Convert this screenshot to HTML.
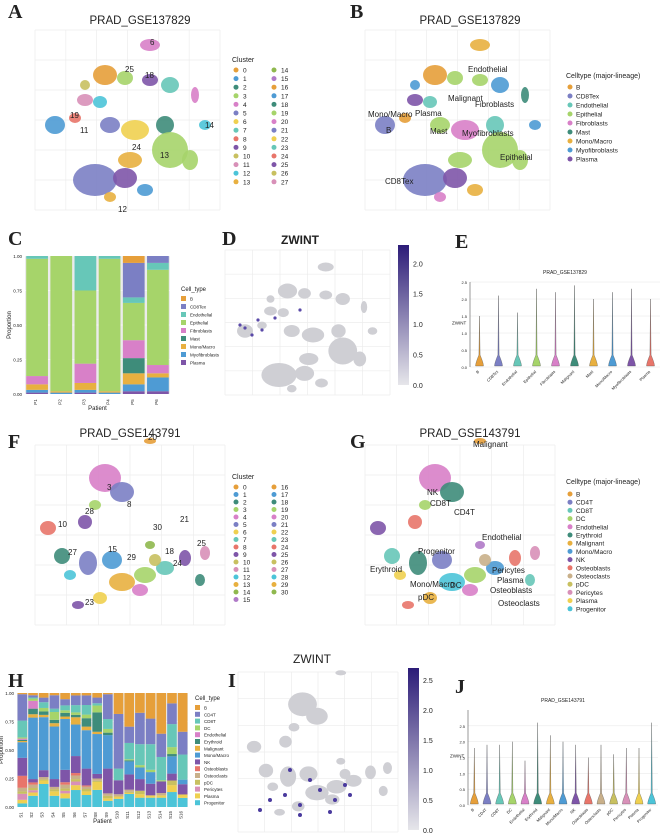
<!DOCTYPE html>
<html><head><meta charset="utf-8">
<style>
html,body{margin:0;padding:0;background:#fff;}
svg{display:block;font-family:"Liberation Sans",sans-serif;}
.pl{font-family:"Liberation Serif",serif;font-weight:bold;font-size:20px;}
</style></head>
<body>
<svg id="fig" width="669" height="836" viewBox="0 0 669 836" xmlns="http://www.w3.org/2000/svg"></svg>
<script>
// ---------- data ----------
const cTypes=["B","CD8Tex","Endothelial","Epithelial","Fibroblasts","Mast","Mono/Macro","Myofibroblasts","Plasma"];
const cColors=["#E69F3A","#7B7FC4","#67C7B8","#A6D46A","#D880C8","#3E8C7A","#E8B040","#4E9BD4","#7E55A8"];
const cPatients=["P1","P2","P3","P4","P5","P6"];
const cValues=[
 [0,0,0.02,0.85,0.06,0,0.04,0.02,0.01],
 [0,0,0,0.98,0,0,0.01,0.01,0],
 [0,0,0.25,0.53,0.14,0,0.05,0.02,0.01],
 [0,0,0.02,0.96,0,0,0.01,0.01,0],
 [0.05,0.25,0.04,0.27,0.13,0.11,0.08,0.05,0.02],
 [0,0.05,0.05,0.69,0.06,0,0.03,0.1,0.02]];
const cTicks=[0,0.25,0.5,0.75,1];
const hTypes=["B","CD4T","CD8T","DC","Endothelial","Erythroid","Malignant","Mono/Macro","NK","Osteoblasts","Osteoclasts","pDC","Pericytes","Plasma","Progenitor"];
const hColors=["#E69F3A","#7B7FC4","#67C7B8","#A6D46A","#D880C8","#3E8C7A","#E8B040","#4E9BD4","#7E55A8","#E8756A","#C9B08A","#C8C060","#D890B8","#EFD050","#4CC4D8"];
const hPatients=["S1","S2","S3","S4","S5","S6","S7","S8","S9","S10","S11","S12","S13","S14","S15","S16"];
const hValues=[
 [.01,.22,.14,.01,.01,.01,.01,.13,.15,.1,.03,.02,.05,.03,.03],
 [.02,.02,.01,.02,.07,.05,.03,.55,.03,.02,.03,.02,.02,.03,.1],
 [.04,.04,.05,.03,0,.03,.02,.46,.06,0,.02,.01,0,.03,.2],
 [.02,.12,.03,.07,0,.03,.03,.47,.07,0,.02,.02,0,.04,.1],
 [.05,.05,.04,.02,0,.03,.02,.41,.1,.02,.03,.02,.02,.04,.07],
 [.02,.08,.06,.02,0,.02,.06,.26,.14,.02,.03,.02,.03,.04,.14],
 [.02,.08,.08,.03,0,.07,.03,.32,.14,.01,.02,.02,0,.03,.1],
 [.04,.05,.02,.06,0,.17,.02,.35,.04,0,.02,.01,0,.07,.15],
 [.01,.2,.08,.03,0,.02,0,.27,.2,0,.02,.02,0,.02,.05],
 [.18,.47,.1,0,0,0,0,0,.12,0,.02,0,0,.02,.07],
 [.31,.15,.15,.01,0,.01,0,.12,.14,0,.02,.01,0,.01,.12],
 [.17,.27,.18,.02,0,0,0,.1,.1,0,0,.03,0,.03,.08],
 [.22,.22,.22,.02,0,0,0,.1,.1,0,0,0,0,.02,.08],
 [.35,.2,.2,.01,0,0,0,0,.1,0,.02,0,0,.02,.08],
 [.09,.18,.2,.06,0,.02,0,.15,.06,0,0,.04,0,.06,.13],
 [.34,.2,.22,0,0,0,0,.04,.09,0,0,0,0,.03,.08]];
const eGroups=["B","CD8Tex","Endothelial","Epithelial","Fibroblasts","Malignant","Mast","Mono/Macro","Myofibroblasts","Plasma"];
const eMax=[1.5,2.1,1.6,2.3,2.2,2.4,2.0,2.2,2.3,2.0];
const jGroups=["B","CD4T","CD8T","DC","Endothelial","Erythroid","Malignant","Mono/Macro","NK","Osteoblasts","Osteoclasts","pDC","Pericytes","Plasma","Progenitor"];
const jMax=[1.8,1.9,1.9,2.0,1.4,2.6,2.2,2.0,1.9,1.5,1.9,1.6,1.8,1.8,2.6];
const clusterA=["0","1","2","3","4","5","6","7","8","9","10","11","12","13","14","15","16","17","18","19","20","21","22","23","24","25","26","27"];
const clusterF=["0","1","2","3","4","5","6","7","8","9","10","11","12","13","14","15","16","17","18","19","20","21","22","23","24","25","26","27","28","29","30"];
const pal=["#E69F3A","#4E9BD4","#3E8C7A","#A6D46A","#D880C8","#7B7FC4","#EFD050","#67C7B8","#E8756A","#7E55A8","#C8C060","#D890B8","#4CC4D8","#E8B040","#8FB84E","#B07AC8"];

const S=document.getElementById('fig');
const NS="http://www.w3.org/2000/svg";
function el(tag,at,parent){const e=document.createElementNS(NS,tag);for(const k in at)e.setAttribute(k,at[k]);(parent||S).appendChild(e);return e;}
function tx(x,y,s,size,extra,parent){const t=el('text',Object.assign({x:x,y:y,'font-size':size,fill:'#222'},extra||{}),parent);t.textContent=s;return t;}

// panel labels
[["A",8,18],["B",350,18],["C",8,245],["D",222,245],["E",455,248],["F",8,448],["G",350,448],["H",8,687],["I",228,687],["J",455,693]].forEach(p=>{
 const t=tx(p[1],p[2],p[0],20,{class:'pl'});
 
 
});

// ---------- UMAP-like panels ----------
function grid(x0,y0,w,h,g){for(let i=0;i<=6;i++){el('line',{x1:x0+i*w/6,y1:y0,x2:x0+i*w/6,y2:y0+h,stroke:'#ececec','stroke-width':0.7},g);el('line',{x1:x0,y1:y0+i*h/6,x2:x0+w,y2:y0+i*h/6,stroke:'#ececec','stroke-width':0.7},g);}}
function blobs(list,dx,dy,colorFn,g){list.forEach((b,i)=>{el('ellipse',{cx:b[0]+dx,cy:b[1]+dy,rx:b[2],ry:b[3],fill:colorFn(b,i),opacity:0.9},g);});}
const blobA=[[150,45,10,6,4],[105,75,12,10,0],[125,78,8,7,3],[150,80,8,6,9],[170,85,9,8,7],[85,100,8,6,11],[100,102,7,6,12],[55,125,10,9,1],[75,118,6,5,8],[110,125,10,8,5],[135,130,14,10,6],[165,125,9,9,2],[205,125,6,5,12],[130,160,12,8,13],[170,150,18,18,3],[190,160,8,10,3],[95,180,22,16,5],[125,178,12,10,9],[145,190,8,6,1],[110,197,6,5,13],[85,85,5,5,10],[195,95,4,8,4]];
const ctA=[6,0,3,3,7,8,2,1,0,3,4,2,7,3,3,3,1,8,6,4,7,5];
function umap(list,dx,dy,colorFn,name,x0,y0,w,h){const g=el('g',{});grid(x0,y0,w,h,g);blobs(list,dx,dy,colorFn,g);return g;}
umap(blobA,0,0,b=>pal[b[4]%pal.length],'umap-cluster-a',35,30,185,180);
umap(blobA,330,0,(b,i)=>cColors[ctA[i]],'umap-celltype-b',365,30,185,180);
tx(140,24,"PRAD_GSE137829",11.5,{'text-anchor':'middle',});
tx(470,24,"PRAD_GSE137829",11.5,{'text-anchor':'middle',});
[["25",125,72],["18",145,78],["14",205,128],["19",70,118],["11",80,133],["24",132,150],["12",118,212],["13",160,158],["6",150,45]].forEach(l=>tx(l[1],l[2],l[0],8,{}));
[["Endothelial",468,72],["Malignant",448,101],["Fibroblasts",475,107],["Mono/Macro",368,117],["Plasma",415,116],["Mast",430,134],["B",386,133],["Myofibroblasts",462,136],["Epithelial",500,160],["CD8Tex",385,184]].forEach(l=>tx(l[1],l[2],l[0],8,{}));
(function(){const g=el('g',{});tx(232,62,"Cluster",7,{},g);
 clusterA.forEach((c,i)=>{const col=i<14?0:1,r=i%14;const x=236+col*38,y=70+r*8.6;el('circle',{cx:x,cy:y,r:2.5,fill:pal[i%pal.length]},g);tx(x+7,y+2.5,c,6.5,{},g);});})();
(function(){const g=el('g',{});tx(566,78,"Celltype (major-lineage)",7,{},g);
 cTypes.forEach((c,i)=>{const y=87+i*9;el('circle',{cx:570,cy:y,r:2.5,fill:cColors[i]},g);tx(576,y+2.5,c,6.5,{},g);});})();

// F/G
const blobF=[[150,441,6,3,0],[105,478,16,14,4],[122,492,12,10,5],[95,505,6,5,3],[48,528,8,7,8],[85,522,7,7,9],[62,556,8,8,2],[88,563,9,12,5],[112,560,10,9,1],[122,582,13,9,13],[145,575,11,8,3],[165,568,9,7,7],[185,558,6,8,9],[200,580,5,6,2],[78,605,6,4,9],[100,598,7,6,6],[140,590,8,6,4],[155,560,6,6,10],[205,553,5,7,11],[70,575,6,5,12],[150,545,5,4,14]];
const gCol=["#E69F3A","#7B7FC4","#67C7B8","#A6D46A","#D880C8","#3E8C7A","#E8B040","#4E9BD4","#7E55A8","#E8756A","#C9B08A","#D890B8","#EFD050","#4CC4D8","#B07AC8"];
umap(blobF,0,0,b=>pal[b[4]%pal.length],'umap-cluster-f',35,445,190,180);
umap(blobF,330,0,(b,i)=>gCol[b[4]%gCol.length],'umap-celltype-g',365,445,190,180);
tx(130,437,"PRAD_GSE143791",11.5,{'text-anchor':'middle',});
tx(470,437,"PRAD_GSE143791",11.5,{'text-anchor':'middle',});
[["20",148,440],["3",107,490],["8",127,507],["30",153,530],["21",180,522],["10",58,527],["28",85,514],["15",108,552],["29",127,560],["18",165,554],["25",197,546],["24",173,566],["23",85,605],["27",68,555]].forEach(l=>tx(l[1],l[2],l[0],8,{}));
[["Malignant",473,447],["NK",427,495],["CD8T",430,506],["CD4T",454,515],["Endothelial",482,540],["Progenitor",418,554],["Pericytes",492,573],["Plasma",497,583],["Osteoblasts",490,593],["Osteoclasts",498,606],["Erythroid",370,572],["Mono/Macro",410,587],["DC",450,588],["pDC",418,600]].forEach(l=>tx(l[1],l[2],l[0],8,{}));
(function(){const g=el('g',{});tx(232,479,"Cluster",7,{},g);
 clusterF.forEach((c,i)=>{const col=i<16?0:1,r=i%16;const x=236+col*38,y=487+r*7.5;el('circle',{cx:x,cy:y,r:2.5,fill:pal[i%pal.length]},g);tx(x+7,y+2.5,c,6.5,{},g);});})();
(function(){const g=el('g',{});tx(566,484,"Celltype (major-lineage)",7,{},g);
 hTypes.forEach((c,i)=>{const y=494+i*8.2;el('circle',{cx:570,cy:y,r:2.5,fill:hColors[i]},g);tx(576,y+2.5,c,6.5,{},g);});})();

// ---------- feature plots D, I ----------
function feature(list,name,x0,y0,w,h,cbx,cby,cbh,ticks,maxv){
 const g=el('g',{});grid(x0,y0,w,h,g);
 list.forEach(b=>el('ellipse',{cx:b[0],cy:b[1],rx:b[2],ry:b[3],fill:'#cfcfd4'},g));
 const gid=name+'-grad';const d=el('defs',{},g);const lg=el('linearGradient',{id:gid,x1:0,y1:1,x2:0,y2:0},d);
 el('stop',{offset:'0','stop-color':'#e6e6ea'},lg);el('stop',{offset:'1','stop-color':'#2c1c78'},lg);
 const cb=el('rect',{x:cbx,y:cby,width:11,height:cbh,fill:'url(#'+gid+')'},g);
 
 ticks.forEach(t=>{const y=cby+cbh-t/maxv*cbh;tx(cbx+15,y+3,t.toFixed(1),7,{},g);});
 return g;}
const dBlobs=blobA.map(b=>[(b[0]-35)*0.85+228,(b[1]-30)*0.8+255,b[2]*0.8,b[3]*0.75]);
const gD=feature(dBlobs,'feature-plot-d',225,250,165,145,398,245,140,[0,0.5,1,1.5,2],2.3);
[[240,325],[245,328],[258,320],[262,330],[252,335],[275,318],[300,310]].forEach(p=>el('circle',{cx:p[0],cy:p[1],r:1.6,fill:'#5a4aa8'},gD));
tx(300,244,"ZWINT",12,{'text-anchor':'middle','font-weight':'bold',});
const iBlobs=blobF.map(b=>[(b[0]-35)*0.85+243,(b[1]-440)*0.85+672,b[2]*0.9,b[3]*0.85]);
const gI=feature(iBlobs,'feature-plot-i',238,672,160,160,408,668,162,[0,0.5,1,1.5,2,2.5],2.7);
[[270,800],[285,795],[300,805],[320,790],[335,800],[350,795],[330,812],[300,815],[310,780],[345,785],[260,810],[290,770]].forEach(p=>el('circle',{cx:p[0],cy:p[1],r:2,fill:'#4a3a9e'},gI));
tx(312,663,"ZWINT",12,{'text-anchor':'middle',});

// ---------- stacked bars ----------
function stacked(values,types,colors,patients,x0,y0,w,h,name,legX,legY,legStep){
 const g=el('g',{});
 el('rect',{x:x0,y:y0,width:w,height:h,fill:'#ebebeb'},g);
 const yS=v=>y0+h-v*h;const bw=w/patients.length;
 cTicks.forEach(t=>{el('line',{x1:x0,x2:x0+w,y1:yS(t),y2:yS(t),stroke:'#fff','stroke-width':0.6},g);tx(x0-3,yS(t)+2,t.toFixed(2),4.5,{'text-anchor':'end'},g);});
 values.forEach((row,pi)=>{const tot=row.reduce((a,b)=>a+b,0);let acc=0;
  for(let k=types.length-1;k>=0;k--){const v=row[k]/tot;if(v<=0)continue;
   const r=el('rect',{x:x0+pi*bw+bw*0.05,y:yS(acc+v),width:bw*0.9,height:v*h,fill:colors[k]},g);
   acc+=v;}
  tx(x0+pi*bw+bw/2,y0+h+8,patients[pi],4.5,{'text-anchor':'middle',transform:'rotate(-90 '+(x0+pi*bw+bw/2)+' '+(y0+h+8)+')'},g);});
 tx(x0+w/2,y0+h+16,"Patient",6,{'text-anchor':'middle'},g);
 tx(x0-14,y0+h/2,"Proportion",6,{'text-anchor':'middle',transform:'rotate(-90 '+(x0-14)+' '+(y0+h/2)+')'},g);
 tx(legX,legY,"Cell_type",6,{},g);
 types.forEach((t,i)=>{const y=legY+5+i*legStep;el('rect',{x:legX,y:y,width:5,height:5,fill:colors[i]},g);tx(legX+9,y+4.5,t,4.5,{},g);});
}
stacked(cValues,cTypes,cColors,cPatients,25,256,145,138,'stacked-bar-c',181,291,8);
stacked(hValues,hTypes,hColors,hPatients,17,693,171,114,'stacked-bar-h',195,700,6.8);

// ---------- violins ----------
function violins(groups,maxes,colors,x0,y0,w,h,ymax,name,title){
 const g=el('g',{});
 tx(x0+w/2,y0-8,title,5,{'text-anchor':'middle'},g);
 [0,0.5,1,1.5,2,2.5].forEach(t=>{if(t>ymax)return;const y=y0+h-t/ymax*h;el('line',{x1:x0,x2:x0+w,y1:y,y2:y,stroke:'#e6e6e6','stroke-width':0.5},g);tx(x0-3,y+2,t.toFixed(1),4,{'text-anchor':'end'},g);});
 el('line',{x1:x0,x2:x0,y1:y0,y2:y0+h,stroke:'#333','stroke-width':0.5},g);
 tx(x0-18,y0+h/2,"ZWINT",4.5,{},g);
 const bw=w/groups.length;
 groups.forEach((gr,i)=>{const cx=x0+bw*(i+0.5);const top=y0+h-maxes[i]/ymax*h;const base=y0+h;
  const p=el('path',{d:`M${cx},${top} L${cx+0.6},${base-12} Q${cx+4},${base-4} ${cx+4},${base-1} L${cx-4},${base-1} Q${cx-4},${base-4} ${cx-0.6},${base-12} Z`,fill:colors[i%colors.length],stroke:'#444','stroke-width':0.3},g);
  
  tx(cx,base+5,gr,4,{'text-anchor':'end',transform:`rotate(-45 ${cx} ${base+5})`},g);});
}
violins(eGroups,eMax,cColors.concat(["#E8756A"]),470,282,190,85,2.5,'violin-e',"PRAD_GSE137829");
violins(jGroups,jMax,hColors,468,710,190,95,3,'violin-j',"PRAD_GSE143791");
</script>
</body></html>
